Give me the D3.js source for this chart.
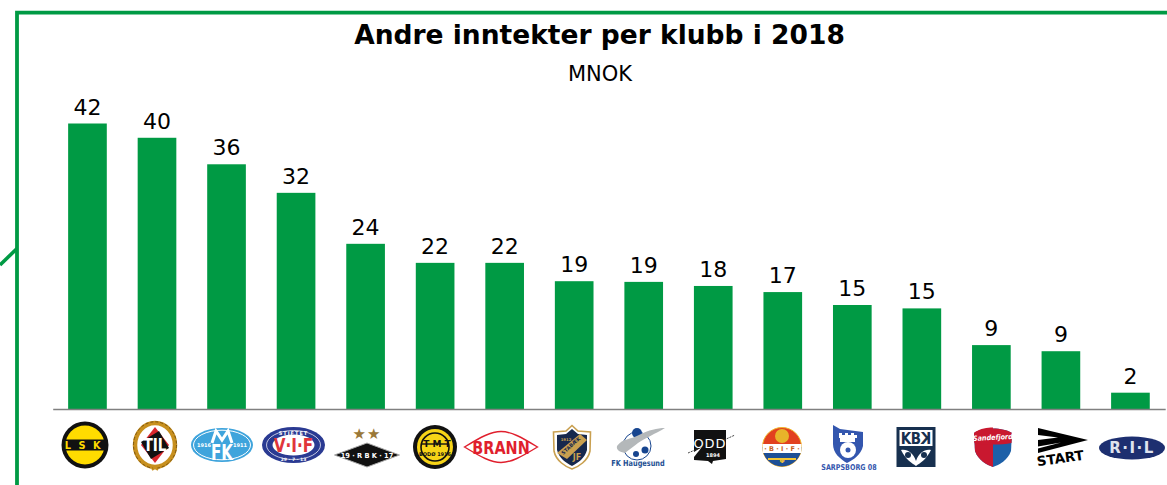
<!DOCTYPE html>
<html><head><meta charset="utf-8">
<script src="https://cdn.jsdelivr.net/npm/d3@7/dist/d3.min.js"></script>
<style>html,body{margin:0;padding:0;background:#fff;overflow:hidden}svg{display:block}text{font-family:"DejaVu Sans",sans-serif}</style>
</head><body><svg id="c" width="1167" height="485"></svg>
<script>
const clubs=["LSK","TIL","MFK","VIF","RBK","BOD","BRA","STB","FKH","ODD","SIF","S08","KBK","SAN","STA","RIL"];
const values=[42,39.9,36,31.8,24.3,21.5,21.5,18.8,18.7,18.1,17.2,15.3,14.8,9.4,8.5,2.4];
const titleText="Andre inntekter per klubb i 2018";
const unitText="MNOK";
const green="#009a44";

const svg=d3.select("#c");
svg.append("path").attr("d","M0,265L17,248.5").attr("stroke",green).attr("stroke-width",3.6).attr("fill","none");
svg.append("path").attr("d","M17,485V12.7H1167").attr("stroke",green).attr("stroke-width",3.8).attr("fill","none");

const x=d3.scaleBand().domain(clubs).range([52.7,1165.2]).paddingInner(0.444).paddingOuter(0.222);
const y=d3.scaleLinear().domain([0,42]).range([409,123.5]);

svg.append("text").attr("x",599.5).attr("y",44).attr("text-anchor","middle").attr("font-weight","bold").attr("font-size",26.5).attr("fill","#000").text(titleText);
svg.append("text").attr("x",600).attr("y",81).attr("text-anchor","middle").attr("font-size",21).attr("fill","#000").text(unitText);

const data=clubs.map((c,i)=>({c,v:values[i]}));
svg.selectAll("rect.bar").data(data).join("rect").attr("class","bar")
  .attr("x",d=>x(d.c)).attr("width",x.bandwidth()).attr("y",d=>y(d.v)).attr("height",d=>y(0)-y(d.v)).attr("fill",green);
svg.selectAll("text.lab").data(data).join("text").attr("class","lab")
  .attr("x",d=>x(d.c)+x.bandwidth()/2).attr("y",d=>y(d.v)-9).attr("text-anchor","middle").attr("font-size",22).attr("fill","#000")
  .text(d=>d3.format(".0f")(d.v));

const axis=d3.axisBottom(x).tickSize(0).tickFormat("");
const ax=svg.append("g").attr("transform","translate(0,409)").call(axis);
ax.select(".domain").attr("stroke","#808080").attr("stroke-width",1.6);

function g(cx,cy){return svg.append("g").attr("transform",`translate(${cx},${cy})`);}
function el(p,rx,ry,f,s,w){return p.append("ellipse").attr("rx",rx).attr("ry",ry).attr("fill",f).attr("stroke",s||"none").attr("stroke-width",w||0);}
function pa(p,d,f,s,w){return p.append("path").attr("d",d).attr("fill",f).attr("stroke",s||"none").attr("stroke-width",w||0);}
function re(p,a,b,w,h,f){return p.append("rect").attr("x",a).attr("y",b).attr("width",w).attr("height",h).attr("fill",f);}
function tx(p,t,xx,yy,fs,f,o={}){return p.append("text").attr("text-anchor","middle").attr("font-size",fs).attr("fill",f)
  .attr("font-weight",o.w||"bold").attr("letter-spacing",o.ls||0).attr("font-style",o.st||null).attr("font-family",o.ff||"'Liberation Sans',sans-serif")
  .attr("transform",`translate(${xx},${yy}) rotate(${o.r||0}) scale(${o.sx||1},1)`).text(t);}
const crest={
LSK(p){el(p,23.5,23.5,"#111");el(p,19.5,19.5,"#ffdc00");re(p,-21,-5.5,42,11,"#111");tx(p,"LSK",1.5,3.6,9.8,"#ffdc00",{ls:7.5});},
TIL(p){el(p,20,22,"none","#c8901e",4.5);el(p,21.5,23.2,"none","#7a5410",1).attr("stroke-dasharray","3 2");el(p,15.5,18.5,"#fff");pa(p,"M0,-18L14,0L0,18L-14,0Z","#d8262c");pa(p,"M-14,-3L4,-14L14,3L-4,14Z","#111");tx(p,"TIL",0,6,17,"#fff",{sx:.8});pa(p,"M-3,21L3,25M3,21L-3,25","none","#c8901e",2);},
MFK(p){el(p,31,17,"#3fa4dc");el(p,28.5,14.8,"none","#fff",1);pa(p,"M-10,-2L-6,-14L0,-5L6,-14L10,-2","none","#fff",3);tx(p,"FK",0,15,21,"#fff",{sx:.72});tx(p,"1916",-18,2,5,"#fff");tx(p,"1911",18,2,5,"#fff");},
VIF(p){el(p,31.5,18,"#2a3a92");el(p,27,14.5,"none","#fff",.7);el(p,21,10.5,"#fff");tx(p,"STIFTET",0,-10.5,5,"#fff",{ls:1});tx(p,"V·I·F",0,7,19,"#e0353b",{sx:.8,ff:"'Liberation Serif',serif"});tx(p,"29 - 7 - 13",0,15.5,4.5,"#fff");},
RBK(p){pa(p,"M-32.5,10L0,-2L32.5,10L0,22Z","#111","#aaa",1);tx(p,"19 · R B K · 17",0,13,7,"#fff",{sx:.95,ff:"'Liberation Sans',sans-serif"});tx(p,"★★",0,-6,15,"#9a7838",{ff:"'DejaVu Sans'",ls:1});},
BOD(p){el(p,22,22,"#111");el(p,18,18,"#f7d417");el(p,14,14,"none","#111",1.6);pa(p,"M-14,-3H14","none","#111",1.4);tx(p,"BODØ 1916",0,9,5,"#111");tx(p,"T M T",2,0,9,"#111");},
BRA(p){pa(p,"M-36.5,0C-20,-10 -10,-15.5 0,-15.5C10,-15.5 20,-10 36.5,0C20,10 10,15.5 0,15.5C-10,15.5 -20,10 -36.5,0Z","#fff","#e01f2d",1.4);tx(p,"BRANN",0,6.8,18.5,"#e01f2d",{sx:.78});},
STB(p){pa(p,"M-18.5,-15L-6,-16L0,-21.5L6,-16L18.5,-15L18,4C16,14 6,20 0,22C-6,20 -16,14 -18,4Z","#fff","#c9a050",1.6);pa(p,"M-15,-12L-6,-13L0,-18L6,-13L15,-12L15,3C13,11 6,16 0,19C-6,16 -13,11 -15,3Z","#17284d");pa(p,"M-15,6L8,-13L15,-7L-5,12Z","#c9a050");tx(p,"JF",5,13,8,"#c9a050");tx(p,"STABÆK",0,0,5,"#17284d",{r:-42});tx(p,"1912",-6,-6.5,3.8,"#c9a050");},
FKH(p){el(p,14,14,"#fff","#17458f",1).attr("cy",-1);pa(p,"M-5,-14A5,5 0 1 1 5,-14A5,5 0 1 1 -5,-14Z","#17458f");el(p,3.5,3.5,"#17458f").attr("cx",8).attr("cy",3);el(p,3,3,"#17458f").attr("cx",-1).attr("cy",7);pa(p,"M-20,-1C-14,-9 -7,-7 2,-12C12,-17 20,-19 28,-19C18,-13 8,-9 1,-4C-3,-1 -8,3 -12,6C-17,5 -21,3 -20,-1Z","#b4b8ba");tx(p,"FK Haugesund",1,18.5,8.2,"#1d4f93",{sx:.8});},
ODD(p){pa(p,"M-16,-17H16V12L3,14L2,17L-2,14L-16,13Z","#111");pa(p,"M-16,10L-16,5L-8,0Z","#fff");pa(p,"M-22,6L-8,0M14,-7L25,-12","none","#333",.9).attr("stroke-dasharray","2 1");tx(p,"ODD",0,1,13,"#fff",{ff:"'Liberation Serif',serif",w:"normal",ls:1});tx(p,"1894",3,9.5,5,"#fff");},
SIF(p){el(p,19.5,19.5,"#e2401f","#efb52a",1);pa(p,"M-19.5,0A19.5,19.5 0 0 0 19.5,0Z","#1d4f96");re(p,-19.5,-3,39,9,"#fff");el(p,7,7,"#e8b42a").attr("cy",-11);tx(p,"· B · I · F ·",0,4,6.5,"#c8601e");pa(p,"M-14,12H14","none","#f3c433",2);tx(p,"Φ",0,16,6,"#f3c433");},
S08(p){pa(p,"M-15,-22L-8,-18L15,-15L15,-1C13,8 5,13 -1,16C-8,12 -15,6 -15,-3Z","#3356ae");re(p,-8,-11,15,6,"#fff");pa(p,"M-9,-9V-14H-6V-12H-3V-14H0V-12H3V-14H6V-12H9V-9Z","#fff");el(p,8,8,"#fff").attr("cy",3);el(p,2.5,2.5,"#3356ae").attr("cy",3);tx(p,"SARPSBORG 08",1,23,8,"#3356ae",{sx:.8});},
KBK(p){re(p,-19.5,-20,39,40,"#17304f");re(p,-16.5,-17,33,16,"#fff");tx(p,"K",-10,-3.5,15,"#17304f",{sx:.9});tx(p,"B",0,-3.5,15,"#17304f",{sx:.9});tx(p,"K",10,-3.5,15,"#17304f",{sx:-.9});pa(p,"M-15,3C-8,2 -3,6 0,14C3,6 8,2 15,3C10,13 4,16 0,19C-4,16 -10,13 -15,3Z","#fff");el(p,3,3,"#17304f").attr("cx",-8).attr("cy",8);el(p,3,3,"#17304f").attr("cx",8).attr("cy",8);},
SAN(p){pa(p,"M-19,-14C-10,-20 10,-20 19,-14L18,4C15,13 6,18 0,20C-6,18 -15,13 -18,4Z","#1d60a8");pa(p,"M-19,-14C-12,-19 -6,-19.5 0,-19.5L0,20C-6,18 -15,13 -18,4Z","#c9182f");pa(p,"M-19,-14C-10,-20 10,-20 19,-14L18.5,-4C8,-2 -8,-2 -18.5,-4Z","#c9182f");tx(p,"Sandefjord",0,-7,7.2,"#fff",{st:"italic",sx:.9,r:-3});},
STA(p){pa(p,"M-25,-19L25,-7L-25,6Z","#000");pa(p,"M-25,-12L-5,-9.5L-25,-7Z","#fff");pa(p,"M-25,-0.5L-2,-4.5L-25,1.5Z","#fff");tx(p,"START",-2,16,13.5,"#000",{r:-8});},
RIL(p){el(p,33,11.5,"#1d2f70");tx(p,"R·I·L",0,5.3,15,"#dfe3ee",{ff:"'Liberation Serif',serif",ls:1.5});}
};
const crestPos={LSK:[85,445],TIL:[155,445],MFK:[222,445],VIF:[293.5,445],RBK:[367,445],BOD:[435,447],BRA:[501,447],STB:[572,447],FKH:[637,447],ODD:[710,447],SIF:[782,447],S08:[848,447],KBK:[916,447],SAN:[993,447],STA:[1063,447],RIL:[1132,448]};
clubs.forEach(c=>crest[c](g(...crestPos[c])));
</script></body></html>
